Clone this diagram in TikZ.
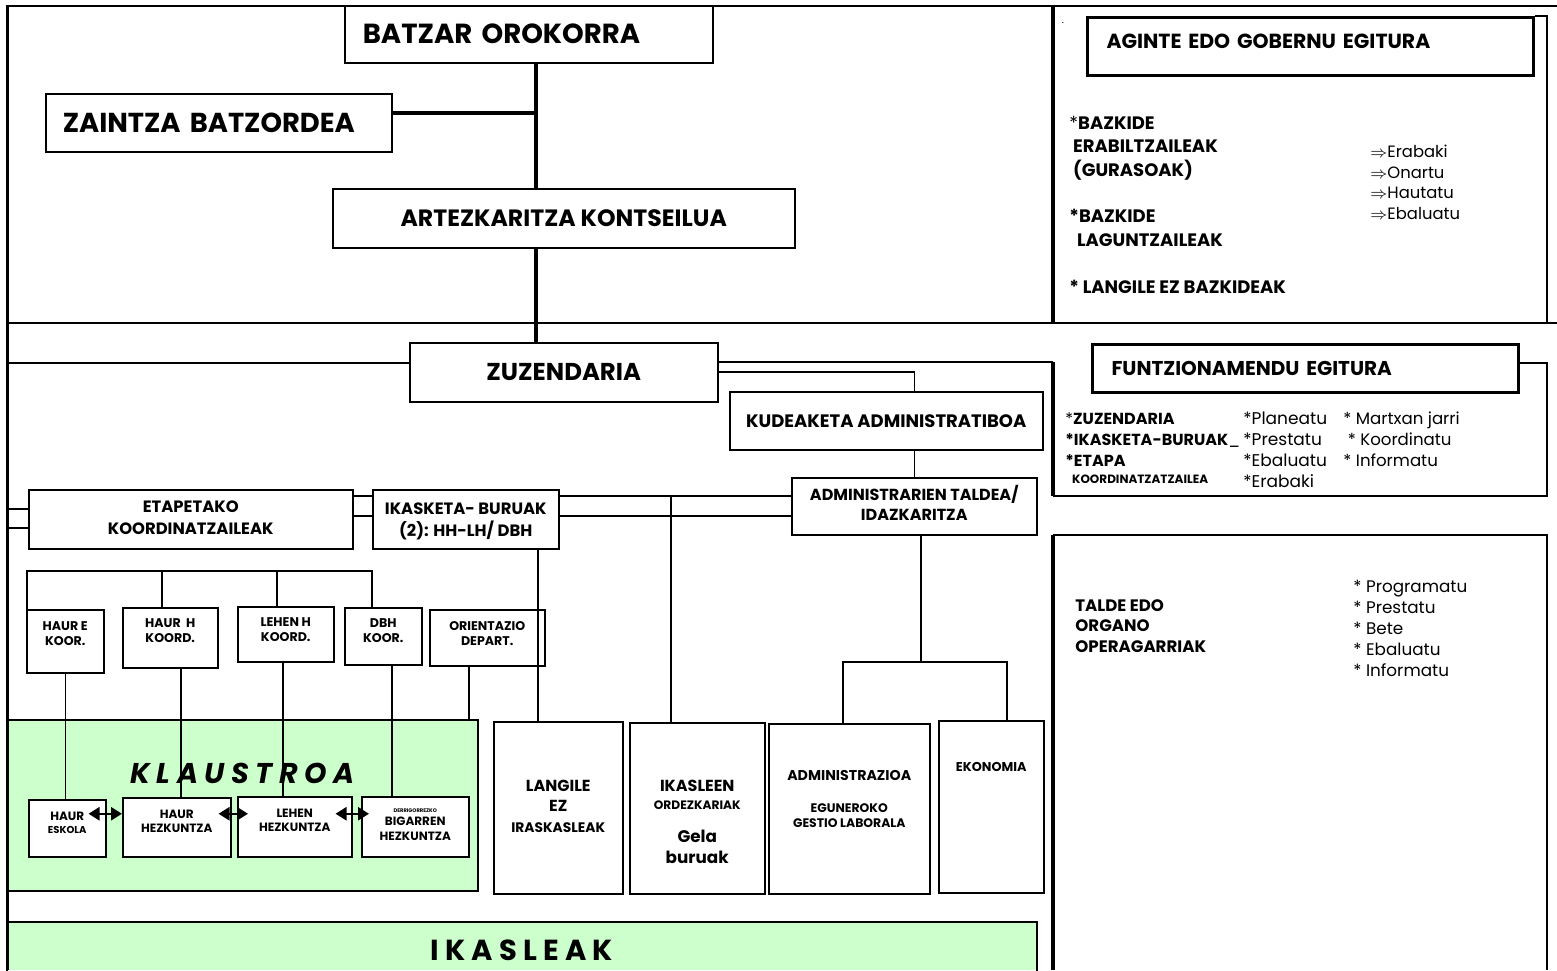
\documentclass[tikz,border=0pt]{standalone}
\usepackage{fontspec}
\setmainfont{Poppins}
\usetikzlibrary{arrows.meta,calc}
\definecolor{kgreen}{HTML}{CCFFCC}
\newcommand{\fsz}[2]{\fontsize{#1pt}{#2pt}\selectfont}
\newcommand{\btxt}[2]{\raisebox{\dimexpr#1-0.25em\relax}[0pt][0pt]{\begin{tabular}{@{}c@{}}#2\end{tabular}}}
\newcommand{\mybox}[7]{%
  \pgfmathsetmacro\bxw{(#5-#3)*0.5}%
  \pgfmathsetmacro\bxh{(#6-#4)*0.5}%
  \node[#1, minimum width=\bxw pt, minimum height=\bxh pt, anchor=north west] (#2) at (#3,#4) {#7};%
}
\newcommand{\myboxl}[8]{%
  \pgfmathsetmacro\bxw{(#5-#3)*0.5}%
  \pgfmathsetmacro\bxh{(#6-#4)*0.5}%
  \pgfmathsetmacro\bxt{\bxw-2*#8}%
  \node[#1, minimum width=\bxw pt, minimum height=\bxh pt, anchor=north west, inner xsep=#8 pt, text width=\bxt pt, align=left] (#2) at (#3,#4) {#7};%
}
\tikzset{
  bxs/.style={draw, line width=0.75pt, fill=white, inner sep=0pt},
  hvy/.style={draw, line width=1.5pt, fill=white, inner sep=0pt},
  grn/.style={draw, line width=0.75pt, fill=kgreen, inner sep=0pt},
  grnopen/.style={fill=kgreen, inner sep=0pt},
  cn/.style={line width=0.75pt},
  spn/.style={line width=2pt},
  frm/.style={line width=0.8pt},
  tfrm/.style={line width=1.5pt},
  dfrm/.style={line width=2pt},
  dbl/.style={line width=1.2pt, {Triangle[length=5.5pt,width=6.5pt]}-{Triangle[length=5.5pt,width=6.5pt]}},
  lst/.style={anchor=base west, inner sep=0pt},
}
\begin{document}
\begin{tikzpicture}[x=0.5pt,y=-0.5pt]
\useasboundingbox (0,0) rectangle (1557,970);
\fill[white] (0,0) rectangle (1557,970);

% ---- frames ----
\draw[frm] (7,6) -- (1557,6);
\draw[frm] (7,323) -- (1557,323);
\draw[dfrm] (1053,6) -- (1053,323);
\draw[frm] (1053,535) -- (1547,535) -- (1547,970);
\draw[dfrm] (1053,535) -- (1053,970);

% ---- top part ----
\myboxl{bxs, font=\fsz{13.8}{16}\bfseries}{batzar}{344}{5}{712}{62}{BATZAR OROKORRA}{9}
\myboxl{bxs, font=\fsz{13.7}{16}\bfseries}{zaintza}{45}{93}{391}{151}{ZAINTZA BATZORDEA}{8.5}
\mybox{bxs, font=\fsz{11.8}{15}\bfseries}{artez}{332}{188}{794}{247}{ARTEZKARITZA KONTSEILUA}
\mybox{bxs, font=\fsz{12.2}{15}\bfseries}{zuz}{409}{342}{717}{401}{ZUZENDARIA}

\coordinate (sp) at (536,0);
\coordinate (zc) at (0,113);
\draw[spn] (sp |- batzar.south) -- (sp |- artez.north);
\draw[spn] (sp |- artez.south) -- (sp |- zuz.north);
\draw[spn] (zaintza.east |- zc) -- (sp |- zc);

% ---- right panels ----
\myboxl{hvy, font=\fsz{10.2}{12}\bfseries}{agint}{1086}{16}{1532}{74}{\raisebox{5pt}{AGINTE EDO GOBERNU EGITURA}}{9.5}
\draw[frm] (agint.north east) -| (1547,323);
\node[font=\fsz{5}{6}] (dot) at (1063,23) {.};

\node[lst, font=\fsz{9}{11.7}\bfseries] (agl) at (1069,129.3) {\begin{tabular}[t]{@{}l@{}}{\mdseries*}BAZKIDE\\ \ ERABILTZAILEAK\\ \ (GURASOAK)\\[11.7pt] *BAZKIDE\\ \ \ LAGUNTZAILEAK\\[11.7pt] * LANGILE EZ BAZKIDEAK\end{tabular}};
\node[lst, font=\fsz{8.2}{10.25}] (agr) at (1370,157.5) {\begin{tabular}[t]{@{}l@{}}$\Rightarrow$Erabaki\\$\Rightarrow$Onartu\\$\Rightarrow$Hautatu\\$\Rightarrow$Ebaluatu\end{tabular}};

\coordinate (zl1) at (0,362);
\coordinate (zl2) at (0,372);
\coordinate (zlft) at (7,363);
\coordinate (fy) at (0,363);
\draw[cn] (zlft) -- (zlft -| zuz.west);
\draw[cn] (zuz.east |- zl1) -- (1053,362);
\draw[dfrm] (1053,362) -- (1053,496);
\myboxl{hvy, font=\fsz{10}{12}\bfseries}{funtz}{1091}{343}{1517}{391}{FUNTZIONAMENDU EGITURA}{9.5}
\draw[frm] (funtz.east |- fy) -| (1547,496) -- (1053,496);

\node[lst, font=\fsz{8}{10.5}\bfseries] (f1) at (1065,424) {\begin{tabular}[t]{@{}l@{}}{\mdseries*}ZUZENDARIA\\{}*IKASKETA-BURUAK{\mdseries\_}\\{}*ETAPA\\[-2pt]\ \ {\fsz{6}{7}KOORDINATZATZAILEA}\end{tabular}};
\node[lst, font=\fsz{8.5}{10.5}] (f2) at (1243,424) {\begin{tabular}[t]{@{}l@{}}*Planeatu\\{}*Prestatu\\{}*Ebaluatu\\{}*Erabaki\end{tabular}};
\node[lst, font=\fsz{8.3}{10.5}] (f3) at (1343,424) {\begin{tabular}[t]{@{}l@{}}* Martxan jarri\\{}\ * Koordinatu\\{}* Informatu\end{tabular}};

\node[lst, font=\fsz{8.3}{10.25}\bfseries] (tl) at (1075,611) {\begin{tabular}[t]{@{}l@{}}TALDE EDO\\ORGANO\\OPERAGARRIAK\end{tabular}};
\node[lst, font=\fsz{8.4}{10.5}] (tr) at (1353,592) {\begin{tabular}[t]{@{}l@{}}* Programatu\\{}* Prestatu\\{}* Bete\\{}* Ebaluatu\\{}* Informatu\end{tabular}};

% ---- middle part ----
\mybox{bxs, font=\fsz{9}{11}\bfseries}{kud}{729}{391}{1042}{449}{KUDEAKETA ADMINISTRATIBOA}
\mybox{bxs, font=\fsz{8}{10}\bfseries}{admin}{791}{477}{1036}{534}{\btxt{0pt}{ADMINISTRARIEN TALDEA/\\IDAZKARITZA}}
\mybox{bxs, font=\fsz{8.2}{11}\bfseries}{etap}{28}{489}{352}{548}{\btxt{0pt}{ETAPETAKO\\KOORDINATZAILEAK}}
\mybox{bxs, font=\fsz{8.2}{10}\bfseries}{ikas}{372}{489}{558}{548}{\btxt{-1pt}{IKASKETA- BURUAK\\(2): HH-LH/ DBH}}

\mybox{bxs, font=\fsz{6.3}{7.5}\bfseries}{haure}{26}{609}{103}{672}{\btxt{3pt}{HAUR E\\KOOR.}}
\mybox{bxs, font=\fsz{6.3}{7.5}\bfseries}{haurh}{122}{607}{217}{667}{\btxt{2.75pt}{HAUR\ \ H\\KOORD.}}
\mybox{bxs, font=\fsz{6.3}{7.5}\bfseries}{lehenh}{237}{606}{333}{661}{\btxt{1.5pt}{LEHEN H\\KOORD.}}
\mybox{bxs, font=\fsz{6.3}{7.5}\bfseries}{dbh}{344}{607}{421}{664}{\btxt{2.25pt}{DBH\\KOOR.}}
\mybox{bxs, font=\fsz{6.3}{7.5}\bfseries}{orient}{429}{609}{544}{665}{\btxt{1.25pt}{ORIENTAZIO\\DEPART.}}

\mybox{grn}{klaustro}{7}{719}{477}{890}{}
\node[font=\fsz{14.3}{16}\bfseries\itshape] (klt) at (242.5,773) {K L A U S T R O A};

\mybox{bxs, font=\fsz{6}{6.5}\bfseries}{eskola}{28}{799}{105}{856}{\btxt{2pt}{HAUR\\{\fsz{5}{6}ESKOLA}}}
\mybox{bxs, font=\fsz{6}{7}\bfseries}{haurhez}{122}{797}{230}{856}{\btxt{2.25pt}{HAUR\\HEZKUNTZA}}
\mybox{bxs, font=\fsz{6}{7}\bfseries}{lehenhez}{237}{796}{351}{856}{\btxt{2.5pt}{LEHEN\\HEZKUNTZA}}
\mybox{bxs, font=\fsz{6}{7.3}\bfseries}{derrig}{361}{796}{468}{856}{\btxt{1.5pt}{{\fsz{2.6}{3}DERRIGORREZKO}\\[-0.8pt]BIGARREN\\HEZKUNTZA}}

\mybox{bxs, font=\fsz{8}{10.25}\bfseries}{langile}{493}{721}{622}{893}{\btxt{0pt}{LANGILE\\EZ\\{\fsz{6.9}{8}IRASKASLEAK}}}
\mybox{bxs, font=\fsz{8}{9}\bfseries}{ikasleen}{629}{722}{764}{893}{\btxt{-7.75pt}{IKASLEEN\\{\fsz{6.1}{7}ORDEZKARIAK}\\[7.5pt]{\fsz{8.4}{10}Gela}\\[1.5pt]{\fsz{8.4}{10}buruak}}}
\mybox{bxs, font=\fsz{7.1}{8}\bfseries}{adminz}{768}{723}{929}{893}{\btxt{4.25pt}{ADMINISTRAZIOA\\[8pt]{\fsz{6.2}{7}EGUNEROKO}\\[-0.5pt]{\fsz{6.2}{7}GESTIO LABORALA}}}
\mybox{bxs, font=\fsz{6.4}{8}\bfseries}{ekon}{938}{720}{1043}{892}{\btxt{19.5pt}{EKONOMIA}}

\mybox{grnopen, font=\fsz{14.5}{17}\bfseries}{ikasleak}{7}{922}{1036}{970}{\btxt{-3.5pt}{I K A S L E A K}}
\draw[cn] (ikasleak.south west) |- (ikasleak.north east) -- (ikasleak.south east);

% ---- connectors ----
\coordinate (dl1) at (0,496);
\coordinate (dl2) at (0,516);
\coordinate (ll1) at (7,509);
\coordinate (ll2) at (7,528);
\draw[cn] (ll1) -- (etap.west |- ll1);
\draw[cn] (ll2) -- (etap.west |- ll2);
\draw[cn] (etap.east |- dl1) -- (ikas.west |- dl1);
\draw[cn] (etap.east |- dl2) -- (ikas.west |- dl2);
\draw[cn] (ikas.east |- dl1) -- (admin.west |- dl1);
\draw[cn] (ikas.east |- dl2) -- (admin.west |- dl2);

\draw[cn] (zuz.east |- zl2) -| (admin.north |- kud.north);
\draw[cn] (kud.south -| admin.north) -- (admin.north);

\coordinate (v1) at (671,496);
\draw[cn] (v1) -- (v1 |- ikasleen.north);
\coordinate (v2) at (538,0);
\draw[cn] (v2 |- ikas.south) -- (v2 |- langile.north);

\coordinate (b662) at (0,662);
\path ($(admin.south)+(6.5,0)$) coordinate (as);
\draw[cn] (as) -- (as |- b662);
\path ($(adminz.north)+(-6.5,0)$) coordinate (c1);
\path ($(ekon.north)+(15.5,0)$) coordinate (c2);
\draw[cn] (c1) -- (c1 |- b662) -- (c2 |- b662) -- (c2);

\coordinate (bus) at (0,571);
\path ($(haure.north west)+(1,0)$) coordinate (b1);
\path ($(haurh.north)+(-8.5,0)$) coordinate (b2);
\path ($(lehenh.north)+(-9,0)$) coordinate (b3);
\path ($(dbh.north west)+(28,0)$) coordinate (b4);
\draw[cn] (b1) -- (b1 |- bus) -- (b4 |- bus) -- (b4);
\draw[cn] (b2) -- (b2 |- bus);
\draw[cn] (b3) -- (b3 |- bus);

\draw[cn] (haure.south) -- (haure.south |- eskola.north);
\path ($(haurh.south)+(10.5,0)$) coordinate (hhs);
\draw[cn] (hhs) -- (hhs |- haurhez.north);
\path ($(lehenh.south)+(-3,0)$) coordinate (lhs);
\draw[cn] (lhs) -- (lhs |- lehenhez.north);
\path ($(dbh.south)+(8.5,0)$) coordinate (dbs);
\draw[cn] (dbs) -- (dbs |- derrig.north);
\path ($(orient.south)+(-18.5,0)$) coordinate (ors);
\draw[cn] (ors) -- (ors |- klaustro.north);

\draw[dbl] ($(eskola.east)+(-18,-14.5)$) -- ($(haurhez.west)+(0,-13.5)$);
\draw[dbl] ($(haurhez.east)+(-13,-13.5)$) -- ($(lehenhez.west)+(11,-13)$);
\draw[dbl] ($(lehenhez.east)+(-17,-13)$) -- ($(derrig.west)+(8,-13)$);

% left frame line on top
\draw[tfrm] (7,5) -- (7,970);
\end{tikzpicture}
\end{document}
